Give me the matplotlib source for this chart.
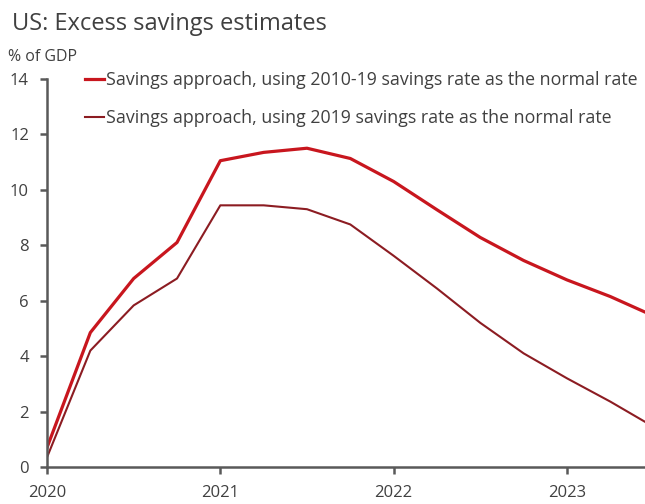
import numpy as np
import matplotlib
matplotlib.use("Agg")
import matplotlib.pyplot as plt

plt.rcParams['font.family'] = ['Open Sans', 'DejaVu Sans']

# quarterly excess savings, % of GDP
quarters = np.arange(2020.0, 2023.75, 0.25)
savings_2010_19 = [0.7, 4.85, 6.8, 8.1, 11.05, 11.35, 11.5, 11.13, 10.3,
                   9.28, 8.28, 7.45, 6.75, 6.15, 5.45]
savings_2019 = [0.35, 4.2, 5.83, 6.8, 9.44, 9.44, 9.3, 8.75, 7.62,
                6.44, 5.2, 4.1, 3.2, 2.36, 1.45]
labels = ["Savings approach, using 2010-19 savings rate as the normal rate",
          "Savings approach, using 2019 savings rate as the normal rate"]
year_ticks = [2020, 2021, 2022, 2023]
y_ticks = [0, 2, 4, 6, 8, 10, 12, 14]

grey = '#595959'
txt = '#404040'

fig = plt.figure(figsize=(6.45, 5.04), dpi=100)
ax = fig.add_axes([0.0729, 0.0734, 0.927, 0.770])

ax.plot(quarters, savings_2010_19, color='#C8161E', lw=2.3, label=labels[0])
ax.plot(quarters, savings_2019, color='#8C1C22', lw=1.5, label=labels[1])

ax.set_xlim(2020, 2023.45)
ax.set_ylim(0, 14)
ax.set_xticks(year_ticks)
ax.set_xticklabels([str(y) for y in year_ticks])
ax.set_yticks(y_ticks)

for s in ['top', 'right']:
    ax.spines[s].set_visible(False)
for s in ['left', 'bottom']:
    ax.spines[s].set_color(grey)
    ax.spines[s].set_linewidth(1.8)
ax.tick_params(axis='both', colors=grey, width=1.8, length=5,
               labelsize=12, labelcolor=txt)
ax.tick_params(axis='y', pad=8)
ax.tick_params(axis='x', pad=8)

leg = ax.legend(loc='upper left', bbox_to_anchor=(0.037, 1.061), frameon=False,
                fontsize=12.8, handlelength=1.05, handletextpad=0.1,
                labelspacing=1.12, labelcolor=txt)

fig.text(0.019, 0.952, "US: Excess savings estimates", fontsize=17,
         color=txt, va='center', ha='left')
fig.text(0.012, 0.887, "% of GDP", fontsize=11.5, color=txt,
         va='center', ha='left')

fig.savefig('out.png', dpi=100)
